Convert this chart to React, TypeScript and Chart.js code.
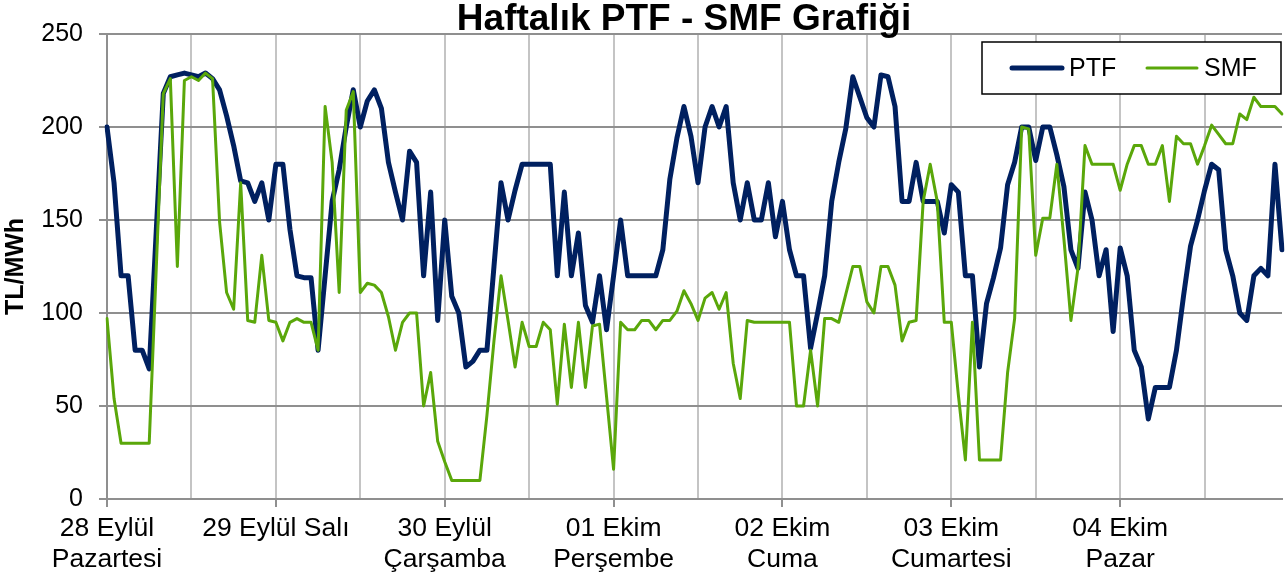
import React, { useEffect, useRef } from "react";
import { Chart, registerables } from "chart.js";

Chart.register(...registerables);

// ---- data ----
const chartTitle = "Haftalık PTF - SMF Grafiği";
const yAxisTitle = "TL/MWh";
const seriesNames = ["PTF", "SMF"];
const dayLabels: string[][] = [
  ["28 Eylül", "Pazartesi"],
  ["29 Eylül Salı"],
  ["30 Eylül", "Çarşamba"],
  ["01 Ekim", "Perşembe"],
  ["02 Ekim", "Cuma"],
  ["03 Ekim", "Cumartesi"],
  ["04 Ekim", "Pazar"],
];
const hoursPerDay = 24;
const yTicks = [0, 50, 100, 150, 200, 250];

// hourly PTF (TL/MWh), one row per day
const ptfValues = [
  200, 170, 120, 120, 80, 80, 70, 144, 218, 227, 228, 229, 228, 227, 229, 226, 220, 206, 190, 171, 170, 160, 170, 150,
  180, 180, 145, 120, 119, 119, 80, 120, 160, 177, 200, 220, 200, 214, 220, 210, 181, 165, 150, 187, 181, 120, 165, 96,
  150, 109, 100, 71, 74, 80, 80, 125, 170, 150, 166, 180, 180, 180, 180, 180, 120, 165, 120, 143, 104, 95, 120, 91,
  120, 150, 120, 120, 120, 120, 120, 134, 172, 194, 211, 195, 170, 200, 211, 200, 211, 170, 150, 170, 150, 150, 170, 141,
  160, 134, 120, 120, 81, 100, 120, 160, 181, 199, 227, 216, 205, 200, 228, 227, 211, 160, 160, 181, 160, 160, 160, 143,
  169, 165, 120, 120, 71, 105, 119, 135, 169, 181, 200, 200, 182, 200, 200, 185, 168, 134, 124, 165, 150, 120, 134, 90,
  135, 120, 80, 71, 43, 60, 60, 60, 80, 109, 136, 150, 166, 180, 177, 134, 120, 100, 96, 120, 124, 120, 180, 134,
];

// hourly SMF (TL/MWh), one row per day
const smfValues = [
  97, 54, 30, 30, 30, 30, 30, 124, 218, 226, 125, 225, 227, 225, 229, 226, 149, 111, 102, 170, 96, 95, 131, 96,
  95, 85, 95, 97, 95, 95, 80, 211, 181, 111, 209, 219, 111, 116, 115, 111, 98, 80, 95, 100, 100, 50, 68, 31,
  20, 10, 10, 10, 10, 10, 45, 85, 120, 96, 71, 95, 82, 82, 95, 91, 51, 94, 60, 95, 60, 93, 94, 55,
  16, 95, 91, 91, 96, 96, 91, 96, 96, 101, 112, 105, 96, 108, 111, 102, 111, 73, 54, 96, 95, 95, 95, 95,
  95, 95, 50, 50, 80, 50, 97, 97, 95, 110, 125, 125, 106, 100, 125, 125, 115, 85, 95, 96, 160, 180, 160, 95,
  95, 56, 21, 95, 21, 21, 21, 21, 68, 97, 200, 199, 131, 151, 151, 180, 140, 96, 124, 190, 180, 180, 180, 180,
  166, 180, 190, 190, 180, 180, 190, 160, 195, 191, 191, 180, 190, 201, 196, 191, 191, 207, 204, 216, 211, 211, 211, 207,
];

const categories: string[] = dayLabels.flatMap((d) =>
  Array.from({ length: hoursPerDay }, (_, h) => `${d.join(" ")} ${String(h).padStart(2, "0")}:00`)
);

// ---- styles ----
const FONT = '"Liberation Sans", Arial, sans-serif';
const PTF_COLOR = "#002060";
const SMF_COLOR = "#5aa70a";
const H_GRID = "#8f8f8f";
const V_GRID = "#c4c4c4";

const overlayPlugin = {
  id: "overlay",
  afterDraw(chart: any) {
    const ctx = chart.ctx as CanvasRenderingContext2D;
    ctx.save();
    // title
    ctx.font = `bold 37px ${FONT}`;
    ctx.fillStyle = "#000";
    ctx.textAlign = "center";
    ctx.textBaseline = "alphabetic";
    ctx.fillText(chartTitle, 684, 30);

    // legend box
    const bx = 982, by = 42, bw = 299, bh = 52;
    ctx.fillStyle = "#fff";
    ctx.fillRect(bx, by, bw, bh);
    ctx.strokeStyle = "#000";
    ctx.lineWidth = 1.5;
    ctx.strokeRect(bx, by, bw, bh);
    const cy = by + bh / 2;
    const entries = [
      { x: 1012, w: 5, color: PTF_COLOR, label: seriesNames[0] },
      { x: 1147, w: 3, color: SMF_COLOR, label: seriesNames[1] },
    ];
    ctx.font = `25px ${FONT}`;
    ctx.textAlign = "left";
    ctx.textBaseline = "middle";
    for (const e of entries) {
      ctx.beginPath();
      ctx.lineCap = "round";
      ctx.strokeStyle = e.color;
      ctx.lineWidth = e.w;
      ctx.moveTo(e.x, cy);
      ctx.lineTo(e.x + 50, cy);
      ctx.stroke();
      ctx.fillStyle = "#000";
      ctx.fillText(e.label, e.x + 57, cy + 1);
    }
    ctx.restore();
  },
};

export default function App() {
  const canvasRef = useRef<HTMLCanvasElement | null>(null);

  useEffect(() => {
    if (!canvasRef.current) return;
    Chart.defaults.font.family = FONT;
    Chart.defaults.color = "#000";
    const chart = new Chart(canvasRef.current, {
      type: "line",
      data: {
        labels: categories,
        datasets: [
          {
            label: seriesNames[0],
            data: ptfValues,
            borderColor: PTF_COLOR,
            backgroundColor: PTF_COLOR,
            borderWidth: 5,
            pointRadius: 0,
            tension: 0,
            borderJoinStyle: "round",
            borderCapStyle: "round",
            order: 1,
          },
          {
            label: seriesNames[1],
            data: smfValues,
            borderColor: SMF_COLOR,
            backgroundColor: SMF_COLOR,
            borderWidth: 3,
            pointRadius: 0,
            tension: 0,
            borderJoinStyle: "round",
            borderCapStyle: "round",
            order: 0,
          },
        ],
      },
      options: {
        responsive: false,
        animation: false,
        devicePixelRatio: 1,
        layout: { padding: { top: 34, right: 4, left: 0, bottom: 0 } },
        plugins: {
          legend: { display: false },
          title: { display: false },
          tooltip: { enabled: false },
        },
        scales: {
          x: {
            type: "category",
            offset: false,
            afterFit: (scale: any) => {
              scale.height = 82;
            },
            grid: {
              offset: false,
              color: (c: any) => (c.index % 12 === 0 ? V_GRID : "rgba(0,0,0,0)"),
              lineWidth: (c: any) => (c.index % 12 === 0 ? 2 : 0),
              tickLength: 8,
              tickColor: H_GRID,
              tickWidth: (c: any) => (c.index % hoursPerDay === 0 ? 2 : 0),
            },
            border: { display: true, color: H_GRID, width: 2 },
            ticks: {
              autoSkip: false,
              maxRotation: 0,
              minRotation: 0,
              padding: 6,
              font: { size: 26.5, lineHeight: 1.18 },
              color: "#000",
              callback: (_v: any, i: number) =>
                i % hoursPerDay === 0 ? dayLabels[i / hoursPerDay] : "",
            },
          },
          y: {
            min: yTicks[0],
            max: yTicks[yTicks.length - 1],
            afterFit: (scale: any) => {
              scale.width = 107;
            },
            afterBuildTicks: (scale: any) => {
              scale.ticks = yTicks.map((v) => ({ value: v }));
            },
            grid: {
              color: H_GRID,
              lineWidth: 2,
              tickLength: 8,
              tickColor: H_GRID,
            },
            border: { display: true, color: H_GRID, width: 2 },
            ticks: {
              padding: 16,
              font: { size: 25 },
              color: "#000",
            },
            title: {
              display: true,
              text: yAxisTitle,
              font: { size: 25, weight: "bold" },
              color: "#000",
              padding: { top: 1, bottom: 0 },
            },
          },
        },
      },
      plugins: [overlayPlugin],
    } as any);
    return () => chart.destroy();
  }, []);

  return (
    <div style={{ position: "fixed", left: 0, top: 0, width: 1288, height: 581, background: "#fff" }}>
      <canvas ref={canvasRef} width={1288} height={581} style={{ width: 1288, height: 581, display: "block" }} />
    </div>
  );
}
